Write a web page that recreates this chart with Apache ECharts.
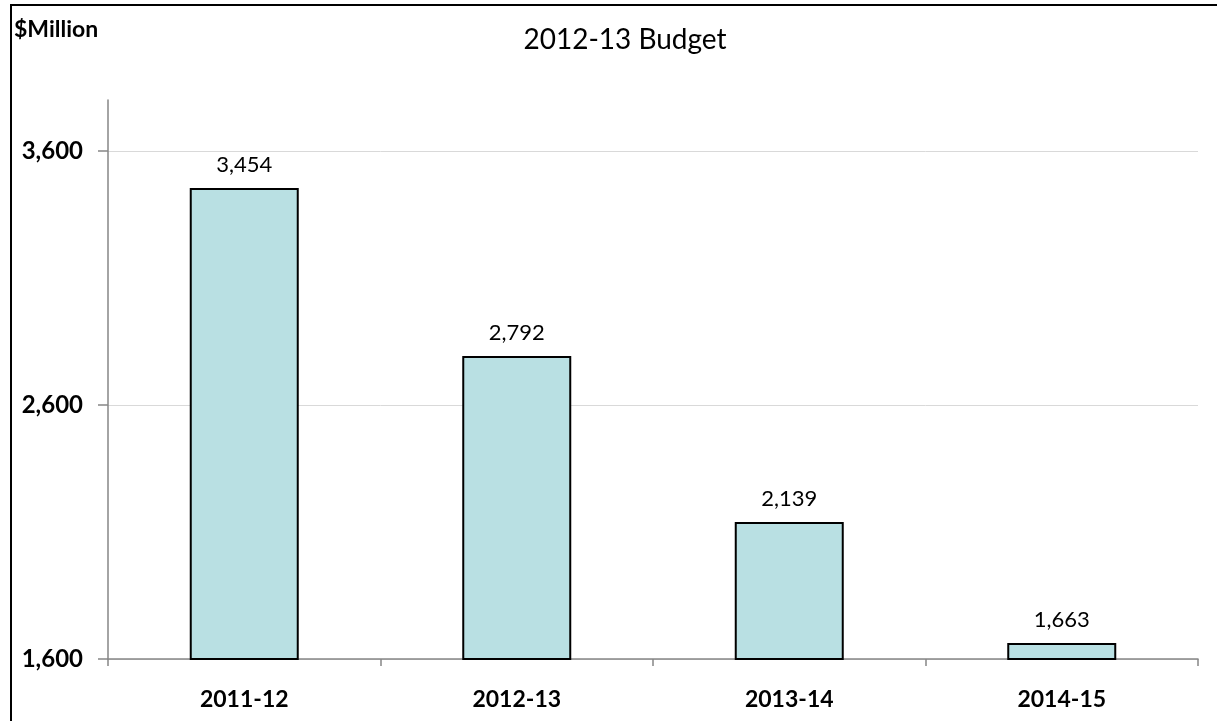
<!DOCTYPE html>
<html>
<head>
<meta charset="utf-8">
<script src="https://cdn.jsdelivr.net/npm/echarts@6/dist/echarts.min.js"></script>
<style>
  html, body { margin: 0; padding: 0; background: #fff; }
  #chart { width: 1217px; height: 721px; }
</style>
</head>
<body>
<div id="chart"></div>
<script>
const categories = ['2011-12', '2012-13', '2013-14', '2014-15'];
const budgetValues = [3454, 2792, 2139, 1663];
const yTickValues = [1600, 2600, 3600];

const FONT = 'Lato, "Open Sans", sans-serif';
const chart = echarts.init(document.getElementById('chart'), null, { renderer: 'canvas' });

chart.setOption({
  backgroundColor: '#ffffff',
  animation: false,
  title: {
    text: '2012-13 Budget',
    left: 620,
    textAlign: 'center',
    top: 21,
    textStyle: { fontFamily: FONT, fontSize: 28, fontWeight: 'normal', color: '#000' }
  },
  graphic: [
    {
      type: 'polyline',
      shape: { points: [[11, 730], [11, 5], [1230, 5]] },
      style: { stroke: '#000', lineWidth: 2, fill: null }
    },
    {
      type: 'text',
      left: 14,
      top: 18,
      style: { text: '$Million', fontFamily: FONT, fontSize: 23, fontWeight: 'bold', fill: '#000' }
    }
  ],
  grid: { left: 108, right: 19, top: 100, bottom: 62, containLabel: false },
  xAxis: {
    type: 'category',
    data: categories,
    boundaryGap: true,
    axisLine: { show: true, lineStyle: { color: '#868686', width: 1.5 } },
    axisTick: { show: true, length: 7, lineStyle: { color: '#868686', width: 1.5 } },
    axisLabel: { margin: 29, fontFamily: FONT, fontSize: 23, fontWeight: 'bold', color: '#000' }
  },
  yAxis: {
    type: 'value',
    min: 1600,
    max: 3800,
    interval: 200,
    axisLine: { show: true, lineStyle: { color: '#868686', width: 1.5 } },
    axisTick: { show: true, length: 10, customValues: yTickValues, lineStyle: { color: '#868686', width: 1.5 } },
    axisLabel: {
      customValues: yTickValues,
      margin: 25,
      fontFamily: FONT, fontSize: 24, fontWeight: 'bold', color: '#000',
      formatter: v => v.toLocaleString('en-US')
    },
    splitLine: { show: true, lineStyle: { color: '#d9d9d9', width: 1 } }
  },
  series: [{
    type: 'bar',
    data: budgetValues,
    barWidth: 109,
    itemStyle: { color: '#b9e0e3', borderColor: '#000', borderWidth: 2 },
    label: {
      show: true,
      position: 'top',
      distance: 12,
      fontFamily: FONT, fontSize: 22, color: '#000',
      formatter: p => p.value.toLocaleString('en-US')
    }
  }]
});
</script>
</body>
</html>
